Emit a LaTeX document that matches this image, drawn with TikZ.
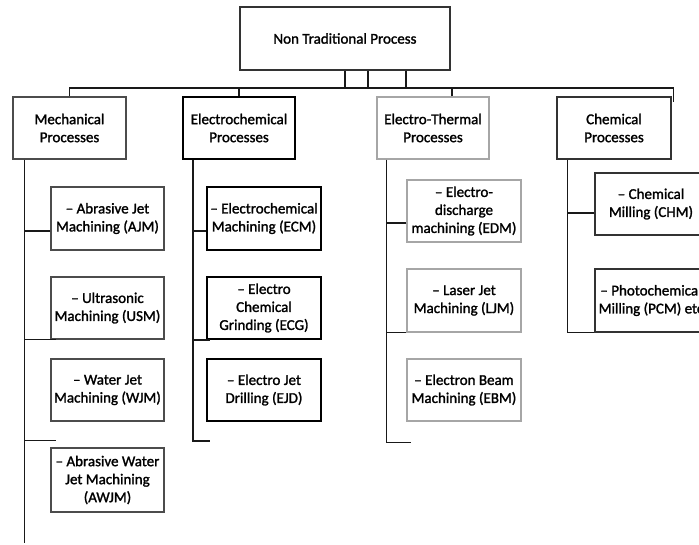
\documentclass[tikz,border=0pt]{standalone}
\usepackage{fontspec}
\setmainfont{Carlito}[FakeBold=1.5]
\newfontfamily\boxfont{Carlito}[FakeBold=1.5]
\usetikzlibrary{calc}
\begin{document}
\begin{tikzpicture}[x=1pt,y=-1pt,
  box/.style={draw, line width=1.2pt, minimum width=113pt, minimum height=63pt,
    inner sep=0pt, align=center, font=\boxfont\fontsize{15}{18}\selectfont},
  mechc/.style={draw=black!70},
  echemc/.style={draw=black, line width=1.8pt},
  ethc/.style={draw=black!35},
  chemc/.style={draw=black!80},
  conn/.style={draw=black!90, line width=1.5pt}]
\clip (0,0) rectangle (699,544);
\fill[white] (0,0) rectangle (699,544);
% top
\node[box, draw=black!80, minimum width=210pt, minimum height=63pt] (top) at (345,38.5) {Non Traditional Process};
% level 1
\node[box, mechc, minimum height=62pt] (mech) at (69.5,128) {Mechanical\\Processes};
\node[box, echemc, minimum width=112pt, minimum height=62pt] (echem) at (239,128) {Electrochemical\\Processes};
\node[box, ethc, minimum width=112pt, minimum height=62pt] (eth) at (433,128) {Electro-Thermal\\Processes};
\node[box, chemc, minimum width=114pt, minimum height=62pt] (chem) at (614,128) {Chemical\\Processes};
% mechanical children
\node[box, mechc] (ajm) at (107.5,218.5) {– Abrasive Jet\\Machining (AJM)};
\node[box, mechc, minimum height=62pt] (usm) at (107.5,308) {– Ultrasonic\\Machining (USM)};
\node[box, mechc, minimum height=62pt] (wjm) at (107.5,390) {– Water Jet\\Machining (WJM)};
\node[box, mechc, minimum height=64pt] (awjm) at (107.5,480) {– Abrasive Water\\Jet Machining\\(AWJM)};
% electrochemical children
\node[box, echemc, minimum width=114pt] (ecm) at (264,218.5) {– Electrochemical\\Machining (ECM)};
\node[box, echemc, minimum width=114pt, minimum height=62pt] (ecg) at (264,308) {– Electro\\Chemical\\Grinding (ECG)};
\node[box, echemc, minimum width=114pt, minimum height=62pt] (ejd) at (264,390) {– Electro Jet\\Drilling (EJD)};
% electro-thermal children
\node[box, ethc, minimum width=114pt, minimum height=62pt] (edm) at (464,211) {– Electro-\\discharge\\machining (EDM)};
\node[box, ethc, minimum width=114pt] (ljm) at (464,300.5) {– Laser Jet\\Machining (LJM)};
\node[box, ethc, minimum width=114pt, minimum height=62pt] (ebm) at (464,390) {– Electron Beam\\Machining (EBM)};
% chemical children
\node[box, chemc, minimum width=112pt, minimum height=62pt] (chm) at (651,204) {– Chemical\\Milling (CHM)};
\node[box, chemc, minimum width=112pt] (pcm) at (651,300.5) {– Photochemical\\Milling (PCM) etc};
% bus and stubs
\coordinate (bus) at (0,88);
\coordinate (chemdrop) at ([xshift=2pt,yshift=-6pt]chem.north east);
\draw[conn] (top.south) -- (top.south |- bus);
\draw[conn] ([xshift=23pt]top.south) -- ([xshift=23pt]top.south |- bus);
\draw[conn] ([xshift=61pt]top.south) -- ([xshift=61pt]top.south |- bus);
\draw[conn] (mech.north) -- (mech.north |- bus) -- (chemdrop |- bus) -- (chemdrop);
\draw[conn] (echem.north) -- (echem.north |- bus);
\draw[conn] ([xshift=19pt]eth.north) -- ([xshift=19pt]eth.north |- bus);
% mechanical spine
\coordinate (mtop) at ([xshift=12pt]mech.south west);
\coordinate (mend) at (mtop |- 0,543);
\draw[conn] (mtop) -- (mend);
\draw[conn] ([yshift=-12.5pt]ajm.west) -- ([yshift=-12.5pt]ajm.west -| mtop);
\draw[conn] (usm.south west -| mtop) -- ([xshift=6pt]usm.south west);
\coordinate (wtick) at ([xshift=6pt,yshift=-19pt]wjm.south west);
\draw[conn] (wtick -| mtop) -- (wtick);
% electrochemical spine
\coordinate (etop) at ([xshift=11pt]echem.south west);
\coordinate (etick) at ([xshift=4pt,yshift=-19pt]ejd.south west);
\draw[conn] (etop) -- (etop |- etick) -- (etick);
\draw[conn] ([yshift=-12.5pt]ecm.west) -- ([yshift=-12.5pt]ecm.west -| etop);
\draw[conn] (ecg.south west -| etop) -- ([xshift=4pt]ecg.south west);
% electro-thermal spine
\coordinate (ttop) at ([xshift=10pt]eth.south west);
\coordinate (ttick) at ([xshift=5pt,yshift=-21pt]ebm.south west);
\draw[conn] (ttop) -- (ttop |- ttick) -- (ttick);
\draw[conn] ([yshift=-12pt]edm.west) -- ([yshift=-12pt]edm.west -| ttop);
\draw[conn] (ljm.south west -| ttop) -- (ljm.south west);
% chemical spine
\coordinate (ctop) at ([xshift=11pt]chem.south west);
\draw[conn] (ctop) -- (ctop |- pcm.south west) -- (pcm.south west);
\draw[conn] ([yshift=-9pt]chm.west) -- ([yshift=-9pt]chm.west -| ctop);
\end{tikzpicture}
\end{document}
